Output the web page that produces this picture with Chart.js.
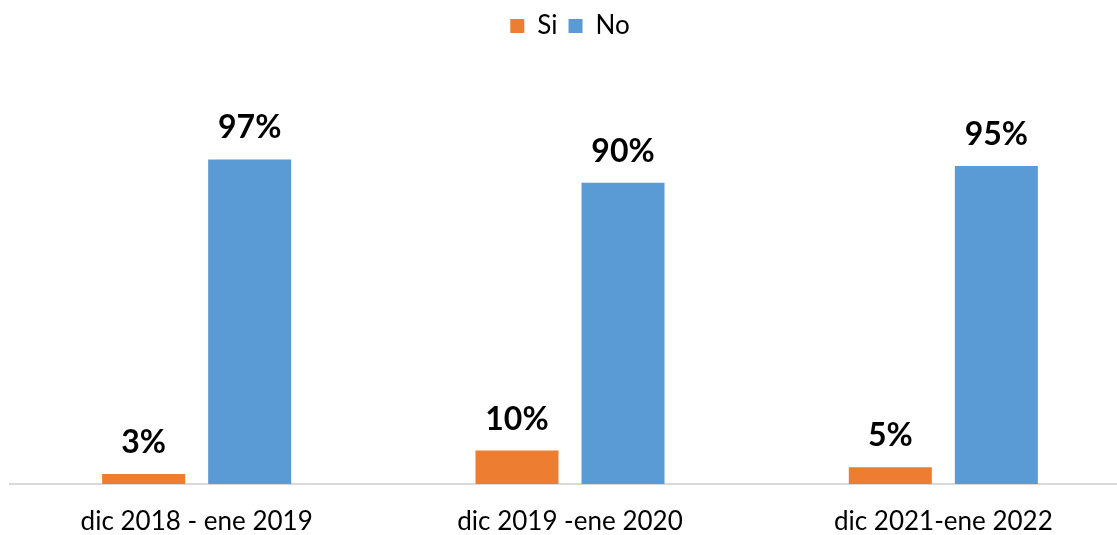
<!DOCTYPE html>
<html>
<head>
<meta charset="utf-8">
<script src="https://cdn.jsdelivr.net/npm/chart.js@4/dist/chart.umd.min.js"></script>
<style>
  html, body { margin: 0; padding: 0; background: #fff; overflow: hidden; }
  #wrap { width: 1140px; height: 535px; }
</style>
</head>
<body>
<div id="wrap"><canvas id="chart_main" width="1140" height="535"></canvas></div>
<script>
const periods = ['dic 2018 - ene 2019', 'dic 2019 -ene 2020', 'dic 2021-ene 2022'];
const si_values = [3, 10, 5];
const no_values = [97, 90, 95];

const chart_palette = {
    orange: '#ED7D31',
    blue: '#5B9BD5',
    axis: '#D9D9D9',
    text: '#000000',
};

const font_family = 'Lato, "Open Sans", sans-serif';

// draws the bold percent labels above each bar
const bar_value_labels = {
    id: 'bar_value_labels',
    afterDatasetsDraw(chart) {
        const ctx = chart.ctx;
        ctx.save();
        ctx.font = 'bold 32px ' + font_family;
        ctx.fillStyle = chart_palette.text;
        ctx.textAlign = 'center';
        ctx.textBaseline = 'alphabetic';
        chart.data.datasets.forEach((ds, i) => {
            const meta = chart.getDatasetMeta(i);
            meta.data.forEach((bar, j) => {
                ctx.fillText(String(ds.data[j]) + '%', bar.x, bar.y - 21);
            });
        });
        ctx.restore();
    },
};

new Chart(document.getElementById('chart_main').getContext('2d'), {
    type: 'bar',
    data: {
        labels: periods,
        datasets: [
            {
                label: 'Si',
                data: si_values,
                backgroundColor: chart_palette.orange,
                barPercentage: 0.783,
                categoryPercentage: 0.568,
            },
            {
                label: 'No',
                data: no_values,
                backgroundColor: chart_palette.blue,
                barPercentage: 0.783,
                categoryPercentage: 0.568,
            },
        ],
    },
    options: {
        responsive: false,
        animation: false,
        layout: { padding: { top: 2, left: 10, right: 10, bottom: 0 } },
        plugins: {
            legend: {
                position: 'top',
                labels: {
                    color: chart_palette.text,
                    font: { family: font_family, size: 26 },
                    boxWidth: 14,
                    boxHeight: 14,
                    padding: 11,
                },
            },
            tooltip: { enabled: false },
        },
        scales: {
            x: {
                grid: { display: false },
                border: { color: chart_palette.axis, width: 2 },
                ticks: {
                    color: chart_palette.text,
                    font: { family: font_family, size: 26 },
                    padding: 14,
                },
                afterFit(scale) {
                    scale.height = 51;
                },
            },
            y: {
                display: false,
                min: 0,
                max: 130,
            },
        },
    },
    plugins: [bar_value_labels],
});
</script>
</body>
</html>
